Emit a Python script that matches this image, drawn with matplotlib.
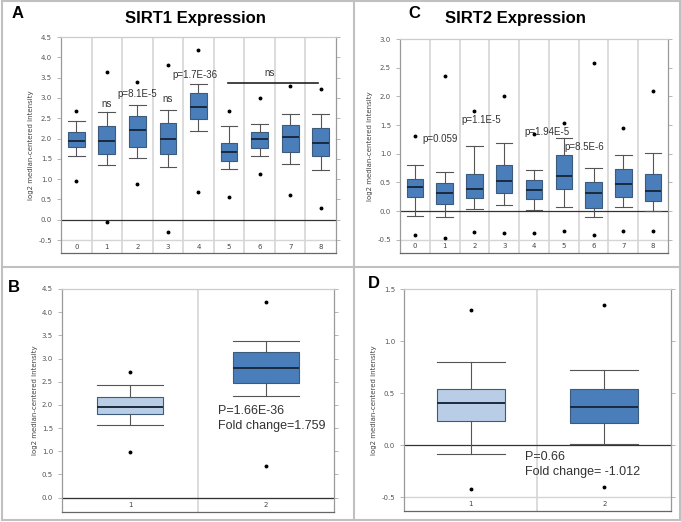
import matplotlib
matplotlib.use("Agg")
import matplotlib.pyplot as plt
from matplotlib.lines import Line2D

W, H = 681, 522
plt.rcParams['font.family'] = ['Liberation Sans', 'DejaVu Sans']

# ---- data ----
# SIRT1, categories 0-8
sirt1_cats = ['0', '1', '2', '3', '4', '5', '6', '7', '8']
sirt1_med = [1.93, 1.95, 2.22, 2.00, 2.77, 1.67, 2.00, 2.04, 1.89]
sirt1_q1 = [1.79, 1.63, 1.79, 1.63, 2.47, 1.44, 1.77, 1.67, 1.56]
sirt1_q3 = [2.16, 2.32, 2.55, 2.37, 3.13, 1.90, 2.17, 2.34, 2.27]
sirt1_lo = [1.56, 1.35, 1.53, 1.29, 2.18, 1.26, 1.58, 1.38, 1.22]
sirt1_hi = [2.43, 2.66, 2.82, 2.71, 3.34, 2.30, 2.36, 2.61, 2.61]
sirt1_out_hi = [2.68, 3.63, 3.38, 3.81, 4.19, 2.68, 2.99, 3.29, 3.23]
sirt1_out_lo = [0.96, -0.06, 0.89, -0.30, 0.68, 0.57, 1.13, 0.62, 0.30]

# SIRT2, categories 0-8
sirt2_cats = ['0', '1', '2', '3', '4', '5', '6', '7', '8']
sirt2_med = [0.42, 0.31, 0.38, 0.52, 0.37, 0.62, 0.31, 0.47, 0.35]
sirt2_q1 = [0.24, 0.12, 0.22, 0.31, 0.21, 0.39, 0.05, 0.25, 0.17]
sirt2_q3 = [0.56, 0.49, 0.65, 0.80, 0.54, 0.98, 0.51, 0.73, 0.64]
sirt2_lo = [-0.08, -0.11, 0.03, 0.10, 0.02, 0.07, -0.10, 0.07, 0.00]
sirt2_hi = [0.81, 0.69, 1.13, 1.19, 0.71, 1.27, 0.75, 0.98, 1.02]
sirt2_out_hi = [1.31, 2.36, 1.75, 2.00, 1.35, 1.54, 2.59, 1.45, 2.09]
sirt2_out_lo = [-0.41, -0.46, -0.37, -0.39, -0.39, -0.34, -0.42, -0.35, -0.35]

# SIRT1, normal (1) vs cancer (2)
b_cats = ['1', '2']
b_med = [1.95, 2.79]
b_q1 = [1.80, 2.47]
b_q3 = [2.18, 3.15]
b_lo = [1.57, 2.20]
b_hi = [2.44, 3.38]
b_out_hi = [2.71, 4.21]
b_out_lo = [0.98, 0.69]

# SIRT2, normal (1) vs cancer (2)
d_cats = ['1', '2']
d_med = [0.41, 0.37]
d_q1 = [0.23, 0.21]
d_q3 = [0.54, 0.54]
d_lo = [-0.08, 0.01]
d_hi = [0.80, 0.72]
d_out_hi = [1.30, 1.35]
d_out_lo = [-0.42, -0.40]

DARK = '#4a7ebb'
LIGHT = '#b9cde6'


def make_stats(med, q1, q3, lo, hi, out_hi, out_lo):
    stats = []
    for i in range(len(med)):
        stats.append(dict(med=med[i], q1=q1[i], q3=q3[i], whislo=lo[i],
                          whishi=hi[i], fliers=[out_hi[i], out_lo[i]]))
    return stats


def px_axes(fig, left, top, right, bottom):
    return fig.add_axes([left / W, 1 - bottom / H, (right - left) / W, (bottom - top) / H])


def draw_panel(ax, stats, cats, positions, colors, width, ylim, yticks, strip_y):
    bp = ax.bxp(stats, positions=positions, widths=width, capwidths=width,
                patch_artist=True,
                boxprops=dict(edgecolor='#3b5a7c', linewidth=0.8),
                medianprops=dict(color='#1b2a3d', linewidth=1.4),
                whiskerprops=dict(color='#555555', linewidth=0.8),
                capprops=dict(color='#555555', linewidth=0.8),
                flierprops=dict(marker='o', markersize=1.8, markerfacecolor='black',
                                markeredgecolor='black', linestyle='none'))
    for patch, c in zip(bp['boxes'], colors):
        patch.set_facecolor(c)

    x0 = positions[0] - 0.5
    x1 = positions[-1] + 0.5
    ax.set_xlim(x0, x1)
    ax.set_ylim(*ylim)

    # category separators
    for p in positions[:-1]:
        ax.axvline(p + 0.5, color='#d5d5d5', lw=1.2, zorder=0)
    # label strip and zero line
    ax.axhline(strip_y, color='#d5d5d5', lw=1.0, zorder=0)
    ax.axhline(0.0, color='#333333', lw=0.9, zorder=1)
    for p, c in zip(positions, cats):
        ax.text(p, (strip_y + ylim[0]) / 2, c, ha='center', va='center',
                fontsize=5, color='#444444', family='DejaVu Sans')

    ax.set_xticks([])
    ax.set_yticks(yticks)
    ax.set_yticklabels(['%.1f' % t for t in yticks])
    ax.tick_params(axis='y', direction='out', length=3, width=0.6, color='#aaaaaa',
                   labelsize=5, labelcolor='#555555', right=True, labelright=False)
    for lab in ax.get_yticklabels():
        lab.set_family('DejaVu Sans')
    ax.set_ylabel('log2 median-centered intensity', fontsize=5, color='#444444',
                  family='DejaVu Sans', labelpad=3)
    ax.spines['left'].set_color('#999999')
    ax.spines['bottom'].set_color('#666666')
    ax.spines['right'].set_color('#999999')
    ax.spines['top'].set_color('#cccccc')
    for s in ax.spines.values():
        s.set_linewidth(0.9)


fig = plt.figure(figsize=(W / 100, H / 100), dpi=100)

# panel A
axA = px_axes(fig, 61, 37, 336, 253)
draw_panel(axA, make_stats(sirt1_med, sirt1_q1, sirt1_q3, sirt1_lo, sirt1_hi,
                           sirt1_out_hi, sirt1_out_lo),
           sirt1_cats, list(range(9)), [DARK] * 9, 0.55, (-0.82, 4.5),
           [-0.5 + 0.5 * i for i in range(11)], -0.5)
ann = dict(ha='center', va='bottom', fontsize=7, color='#333333')
axA.text(1, 2.72, 'ns', **ann)
axA.text(2, 2.98, 'p=8.1E-5', **ann)
axA.text(3, 2.84, 'ns', **ann)
axA.text(3.88, 3.45, 'p=1.7E-36', **ann)
axA.text(6.34, 3.50, 'ns', **ann)
axA.plot([4.95, 7.9], [3.37, 3.37], color='#222222', lw=1.2)

# panel C
axC = px_axes(fig, 400, 39, 668, 253)
draw_panel(axC, make_stats(sirt2_med, sirt2_q1, sirt2_q3, sirt2_lo, sirt2_hi,
                           sirt2_out_hi, sirt2_out_lo),
           sirt2_cats, list(range(9)), [DARK] * 9, 0.55, (-0.73, 3.0),
           [-0.5 + 0.5 * i for i in range(8)], -0.5)
ann = dict(va='center', fontsize=7, color='#333333')
axC.text(0.24, 1.26, 'p=0.059', ha='left', **ann)
axC.text(2.22, 1.58, 'p=1.1E-5', ha='center', **ann)
axC.text(4.43, 1.38, 'p=1.94E-5', ha='center', **ann)
axC.text(5.7, 1.11, 'p=8.5E-6', ha='center', **ann)

# panel B
axB = px_axes(fig, 62, 289, 334, 512)
draw_panel(axB, make_stats(b_med, b_q1, b_q3, b_lo, b_hi, b_out_hi, b_out_lo),
           b_cats, [1, 2], [LIGHT, DARK], 0.49, (-0.31, 4.5),
           [0.5 * i for i in range(10)], 0.0)
axB.text(1.65, 1.87, 'P=1.66E-36', ha='left', va='center', fontsize=9, color='#333333')
axB.text(1.65, 1.54, 'Fold change=1.759', ha='left', va='center', fontsize=9,
         color='#333333')

# panel D
axD = px_axes(fig, 404, 289, 671, 511)
draw_panel(axD, make_stats(d_med, d_q1, d_q3, d_lo, d_hi, d_out_hi, d_out_lo),
           d_cats, [1, 2], [LIGHT, DARK], 0.51, (-0.63, 1.5),
           [-0.5 + 0.5 * i for i in range(5)], -0.5)
axD.text(1.41, -0.11, 'P=0.66', ha='left', va='center', fontsize=9, color='#333333')
axD.text(1.41, -0.26, 'Fold change= -1.012', ha='left', va='center', fontsize=9,
         color='#333333')

# titles and panel letters
fig.text(195 / W, 1 - 18 / H, 'SIRT1 Expression', ha='center', va='center',
         fontsize=12, fontweight='bold')
fig.text(515 / W, 1 - 18 / H, 'SIRT2 Expression', ha='center', va='center',
         fontsize=12, fontweight='bold')
for x, y, s in [(12, 14, 'A'), (408, 13, 'C'), (8, 288, 'B'), (368, 284, 'D')]:
    fig.text(x / W, 1 - y / H, s, ha='left', va='center', fontsize=12, fontweight='bold')

# panel frames
frame = dict(color='#c0c0c0', lw=1.5, transform=fig.transFigure)
for xs, ys in [([2, 680], [1, 1]), ([2, 680], [520, 520]), ([2, 2], [1, 520]),
               ([680, 680], [1, 520]), ([354, 354], [1, 520]), ([2, 680], [267, 267])]:
    fig.add_artist(Line2D([x / W for x in xs], [1 - y / H for y in ys], **frame))

fig.savefig('out.png', dpi=100)
